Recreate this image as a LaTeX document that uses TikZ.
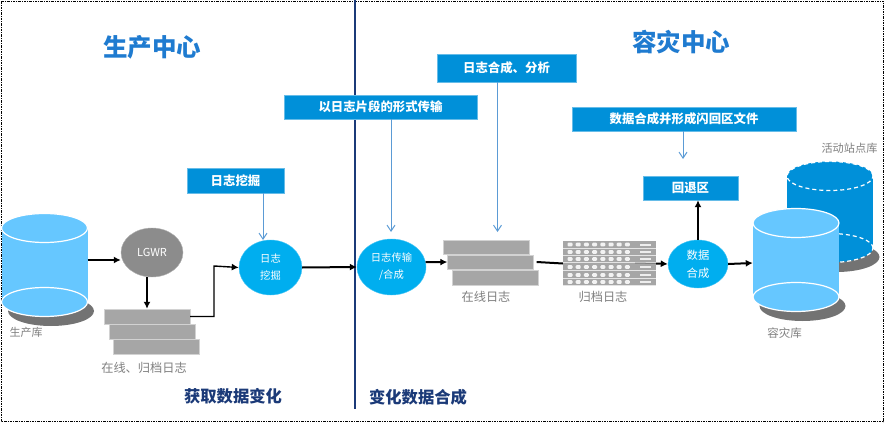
\documentclass[tikz,border=0pt]{standalone}
\usepackage{fontspec}
\setmainfont{Noto Sans CJK SC}
\usetikzlibrary{positioning, arrows.meta, shapes.geometric}
\definecolor{boxblue}{HTML}{0090D9}
\definecolor{discblue}{HTML}{00AEEF}
\definecolor{cyllight}{HTML}{66C7FF}
\definecolor{linkblue}{HTML}{5B9BD5}
\definecolor{titleblue}{HTML}{1F7BD0}
\definecolor{navy}{HTML}{1B3A78}
\definecolor{loggray}{HTML}{A6A6A6}
\definecolor{textgray}{HTML}{7F7F7F}

\begin{document}
\begin{tikzpicture}[x=1pt, y=-1pt, >=Latex,
  notebox/.style={fill=boxblue, draw=boxblue!60, text=white, inner sep=0pt, font=\bfseries\fontsize{12.4}{15}\selectfont},
  disc/.style={ellipse, fill=discblue, draw=discblue!70, text=white, inner sep=0pt, align=center, font=\fontsize{10.3}{17}\selectfont},
  logpage/.style={fill=loggray, draw=loggray!50, inner sep=0pt, minimum width=86pt},
  caption/.style={text=textgray, font=\fontsize{12.2}{15}\selectfont},
  heading/.style={text=titleblue, font=\bfseries\fontsize{24.5}{30}\selectfont},
  stage/.style={text=navy, font=\bfseries\fontsize{16.3}{19}\selectfont},
  flow/.style={->, line width=2pt, >={Latex[length=7pt,width=7pt]}},
  note/.style={->, line width=1pt, draw=linkblue, >={Straight Barb[length=6pt,width=8pt]}},
  dbdash/.style={dash pattern=on 4pt off 3pt}
]
  \useasboundingbox (0,0) rectangle (884,423);
  \draw[line width=0.7pt, dash pattern=on 2.5pt off 1pt on 1pt off 1pt] (1,1) rectangle (883,421.5);

  % divider
  \coordinate (divtop) at (355,0);
  \coordinate (divbot) at (355,409);
  \draw[line width=1.6pt, navy] (divtop) -- (divbot);

  % databases: name/center/top/bottom/mid/color/line
  \foreach \name/\cx/\ya/\yb/\ym/\col/\lin in {
    prod/44.5/228/302/260/cyllight/solid,
    standby/830/176/248/212/boxblue/dbdash,
    dr/796/223/297/263/cyllight/solid}{
    \fill[gray!90!black] (\cx+6.5,\yb+9) ellipse [x radius=43pt, y radius=15pt];
    \fill[\col] (\cx-43,\ya) rectangle (\cx+43,\yb);
    \draw[white, line width=1.2pt, \lin, fill=\col] (\cx,\yb) ellipse [x radius=43pt, y radius=14.5pt];
    \draw[white, line width=1.2pt, \lin, fill=\col] (\cx,\ya) ellipse [x radius=43pt, y radius=14.5pt];
    \node[minimum width=86pt, minimum height=40pt, inner sep=0pt] (\name) at (\cx,\ym) {};
  }
  \node[caption, font=\fontsize{11}{14}\selectfont] (prodlab) at (26,332) {生产库};
  \node[caption, font=\fontsize{11.5}{14}\selectfont] (drlab) at (784.5,333) {容灾库};
  \node[caption, font=\fontsize{11.2}{14}\selectfont] (standbylab) at (849.5,148) {活动站点库};

  \node[heading] (prodtitle) at (152,47) {生产中心};
  \node[heading] (drtitle) at (681,42) {容灾中心};
  \node[stage] (stageget) at (233,396) {获取数据变化};
  \node[stage] (stagemerge) at (418,397) {变化数据合成};

  % redo stacks
  \node[logpage, minimum height=15pt] (redoa) at (147,316.5) {};
  \node[logpage, minimum height=15pt] (redob) at (152,331.5) {};
  \node[logpage, minimum height=15pt] (redoc) at (156.5,346.5) {};
  \node[caption] (redolab) at (144,368) {在线、归档日志};
  \node[logpage, minimum height=14pt] (onlinea) at (486,247) {};
  \node[logpage, minimum height=14pt] (onlineb) at (490.5,262) {};
  \node[logpage, minimum height=15pt] (onlinec) at (495,278) {};
  \node[caption] (onlinelab) at (486,297) {在线日志};

  % archive rack
  \node[fill=loggray, inner sep=0pt, minimum width=93pt, minimum height=45pt] (archive) at (609.5,263.5) {};
  \foreach \y in {244.5,252,259,267,275,282}{
    \foreach \x in {0,...,7}
      \fill[white!85!loggray, rounded corners=1pt] (570+\x*8.2-2.5,\y-1.8) rectangle ++(5,3.6);
    \fill[white!80!loggray] (640,\y-1) rectangle ++(11,2);
    \draw[white!70!loggray, line width=0.6pt] (563,\y+3.6) -- (656,\y+3.6);
  }
  \coordinate (archiveout) at (635,263);
  \node[caption] (archivelab) at (603,297) {归档日志};

  % process discs
  \node[disc, fill=gray!90, draw=gray!60, minimum width=62pt, minimum height=49pt, font=\fontsize{11}{13}\selectfont] (lgwr) at (152,252.5) {LGWR};
  \node[disc, minimum width=63pt, minimum height=55pt] (mine) at (270.5,267.5) {日志\\挖掘};
  \node[disc, minimum width=69pt, minimum height=56pt] (ship) at (391.5,267) {日志传输\\/合成};
  \node[disc, minimum width=60pt, minimum height=48pt, font=\fontsize{11.3}{18}\selectfont] (merge) at (698,264) {数据\\合成};

  % note boxes
  \node[notebox, minimum width=97pt, minimum height=25pt] (notemine) at (235.5,180.5) {日志挖掘};
  \node[notebox, minimum width=193pt, minimum height=24pt] (noteship) at (380.5,107) {以日志片段的形式传输};
  \node[notebox, minimum width=139pt, minimum height=28pt] (noteparse) at (506.5,68) {日志合成、分析};
  \node[notebox, minimum width=224pt, minimum height=24pt] (noteflash) at (684,119) {数据合成并形成闪回区文件};
  \node[notebox, minimum width=95pt, minimum height=24pt] (flasharea) at (690.5,188) {回退区};

  % data flow
  \draw[flow] (prod.east) -- (lgwr.west |- prod.east);
  \draw[flow] (lgwr.south -| redoa.north) -- (redoa.north);
  \coordinate (bend) at (214,266);
  \draw[flow, line width=1.4pt] (redoa.east) -| (bend) -- (mine.west);
  \draw[flow] (mine.east) -- (ship.west);
  \draw[flow] (ship.8) -- (onlineb.west);
  \draw[line width=2pt] ([xshift=3pt]onlineb.east) -- (archive.west);
  \draw[line width=1pt, gray] (archiveout) -- (archive.east);
  \draw[flow] (archive.east) -- (merge.west);
  \draw[flow] (merge.north) -- (flasharea.south -| merge.north);
  \draw[flow] (merge.east) -- (dr.west);

  % notes pointing down
  \coordinate (tipmine) at (263,240);
  \coordinate (tipship) at (391,232);
  \coordinate (tipparse) at (497.5,232);
  \coordinate (tipflash) at (683,159);
  \draw[note] (notemine.south -| tipmine) -- (tipmine);
  \draw[note] (noteship.south -| tipship) -- (tipship);
  \draw[note] (noteparse.south -| tipparse) -- (tipparse);
  \draw[note] (noteflash.south -| tipflash) -- (tipflash);
\end{tikzpicture}
\end{document}
